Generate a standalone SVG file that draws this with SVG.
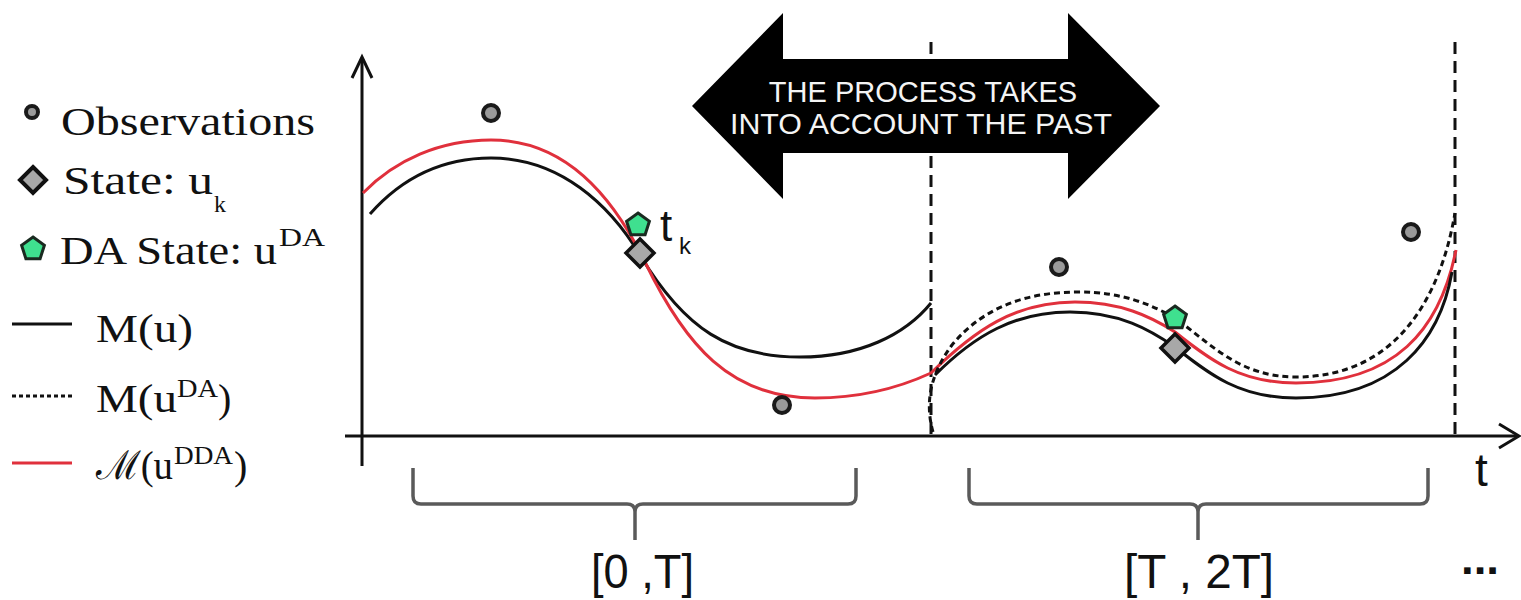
<svg xmlns="http://www.w3.org/2000/svg" xmlns:xlink="http://www.w3.org/1999/xlink" width="1521" height="600" viewBox="0 0 1521 600">
<style>
.serif{font-family:"Liberation Serif","Times New Roman",serif;fill:#111}
.sans{font-family:"Liberation Sans",Arial,sans-serif;fill:#111}
.ax{stroke:#111;stroke-width:3;fill:none}
.blk{stroke:#111;stroke-width:3;fill:none}
.red{stroke:#e0303c;stroke-width:3;fill:none}
.dot{stroke:#111;stroke-width:3;fill:none;stroke-dasharray:6 4}
.dash{stroke:#111;stroke-width:3;fill:none;stroke-dasharray:12 7}
.brace{stroke:#5a5a5a;stroke-width:3.5;fill:none}
.obs{fill:#9a9a9a;stroke:#1a1a1a;stroke-width:4}
.dia{fill:#a8a8a8;stroke:#111;stroke-width:3.5}
.pen{fill:#3fe08f;stroke:#1a2a20;stroke-width:3}
</style>
<defs>
<polygon id="pent" points="0,-12 11.4,-3.7 7.1,9.7 -7.1,9.7 -11.4,-3.7"/>
<polygon id="diam" points="0,-14 14,0 0,14 -14,0"/>
</defs>

<g id="legend">
<circle class="obs" cx="32" cy="112" r="6"/>
<text class="serif" x="61" y="135" font-size="40" textLength="254" lengthAdjust="spacingAndGlyphs">Observations</text>
<polygon class="dia" points="33,167 46,180 33,193 20,180" style="stroke-width:4"/>
<text class="serif" x="63" y="194" font-size="40" textLength="150" lengthAdjust="spacingAndGlyphs">State: u</text>
<text class="serif" x="214" y="212" font-size="24">k</text>
<use href="#pent" class="pen" transform="translate(33,249)"/>
<text class="serif" x="60" y="264" font-size="40" textLength="217" lengthAdjust="spacingAndGlyphs">DA State: u</text>
<text class="serif" x="279" y="246" font-size="26" textLength="46" lengthAdjust="spacingAndGlyphs">DA</text>
<line class="blk" x1="12" y1="324" x2="72" y2="324"/>
<text class="serif" x="96" y="342" font-size="40" textLength="97" lengthAdjust="spacingAndGlyphs">M(u)</text>
<line class="dot" x1="12" y1="396" x2="75" y2="396" style="stroke-dasharray:4 3"/>
<text class="serif" x="96" y="412" font-size="40" textLength="81" lengthAdjust="spacingAndGlyphs">M(u</text>
<text class="serif" x="177" y="397" font-size="26" textLength="41" lengthAdjust="spacingAndGlyphs">DA</text>
<text class="serif" x="218" y="412" font-size="40">)</text>
<line class="red" x1="12" y1="463" x2="72" y2="463"/>
<text class="serif" x="96" y="479" font-size="40" textLength="77" lengthAdjust="spacingAndGlyphs">ℳ(u</text>
<text class="serif" x="174" y="464" font-size="26" textLength="59" lengthAdjust="spacingAndGlyphs">DDA</text>
<text class="serif" x="234" y="479" font-size="40">)</text>
</g>

<g id="axes">
<line class="ax" x1="362" y1="466" x2="362" y2="58"/>
<polyline class="ax" points="352,78 362,57 372,78"/>
<line class="ax" x1="345" y1="436" x2="1517" y2="436"/>
<polyline class="ax" points="1499,424 1519,436 1499,448"/>
<text class="sans" x="1475" y="486" font-size="46">t</text>
<line class="dash" x1="931" y1="42" x2="931" y2="436"/>
<line class="dash" x1="1455" y1="42" x2="1455" y2="436"/>
</g>

<g id="connectors">
<path class="blk" d="M370,214 C400,180 440,158 491,158 C560,158 610,205 640,255 C685,330 730,357 800,357 C860,357 905,335 931,303"/>
<path class="red" d="M363,193 C395,160 440,140 491,140 C565,140 612,195 645,262 C685,345 730,398 815,398 C865,398 905,385 931,373 C975,330 1015,302 1075,302 C1120,302 1150,316 1175,332 C1210,360 1240,383 1296,383 C1395,383 1440,330 1456,250"/>
<path class="blk" d="M935,375 C975,335 1015,312 1070,312 C1120,312 1150,330 1175,347 C1210,375 1240,398 1296,398 C1395,398 1440,340 1452,272"/>
<path class="dot" d="M933,432 C924,400 932,372 952,345 C985,305 1030,292 1078,292 C1122,292 1150,304 1175,318 C1212,345 1240,377 1296,377 C1395,377 1440,300 1455,213"/>
</g>

<g id="observations">
<circle class="obs" cx="491" cy="113" r="8"/>
<circle class="obs" cx="782" cy="405" r="8"/>
<circle class="obs" cx="1059" cy="267" r="8"/>
<circle class="obs" cx="1411" cy="232" r="8"/>
</g>

<g id="state-tk">
<use href="#diam" class="dia" x="640" y="253"/>
<use href="#pent" class="pen" x="638" y="225"/>
<text class="sans" x="660" y="241" font-size="44">t</text>
<text class="sans" x="679" y="254" font-size="24">k</text>
</g>

<g id="state-2">
<use href="#diam" class="dia" x="1175" y="348"/>
<use href="#pent" class="pen" x="1175" y="318"/>
</g>

<g id="banner">
<polygon fill="#000" points="692,106 783,13 783,59 1068,59 1068,13 1160,106 1068,199 1068,153 783,153 783,199"/>
<text x="923" y="102" font-size="29" text-anchor="middle" style="font-family:'Liberation Sans',Arial,sans-serif;fill:#f4f4f4">THE PROCESS TAKES</text>
<text x="921" y="134" font-size="29" text-anchor="middle" textLength="382" lengthAdjust="spacingAndGlyphs" style="font-family:'Liberation Sans',Arial,sans-serif;fill:#f4f4f4">INTO ACCOUNT THE PAST</text>
</g>

<g id="brace-1">
<path class="brace" d="M413,468 L413,496 Q413,504 421,504 L627,504 Q635,504 635,512 L635,540 M635,512 Q635,504 643,504 L848,504 Q856,504 856,496 L856,468"/>
<text class="sans" x="591" y="588" font-size="48" textLength="103" lengthAdjust="spacingAndGlyphs">[0 ,T]</text>
</g>

<g id="brace-2">
<path class="brace" d="M969,468 L969,496 Q969,504 977,504 L1190,504 Q1198,504 1198,512 L1198,540 M1198,512 Q1198,504 1206,504 L1420,504 Q1428,504 1428,496 L1428,468"/>
<text class="sans" x="1124" y="588" font-size="48" textLength="150" lengthAdjust="spacingAndGlyphs">[T , 2T]</text>
<text class="sans" x="1461" y="574" font-size="44" font-weight="bold" textLength="38" lengthAdjust="spacingAndGlyphs">...</text>
</g>
</svg>
